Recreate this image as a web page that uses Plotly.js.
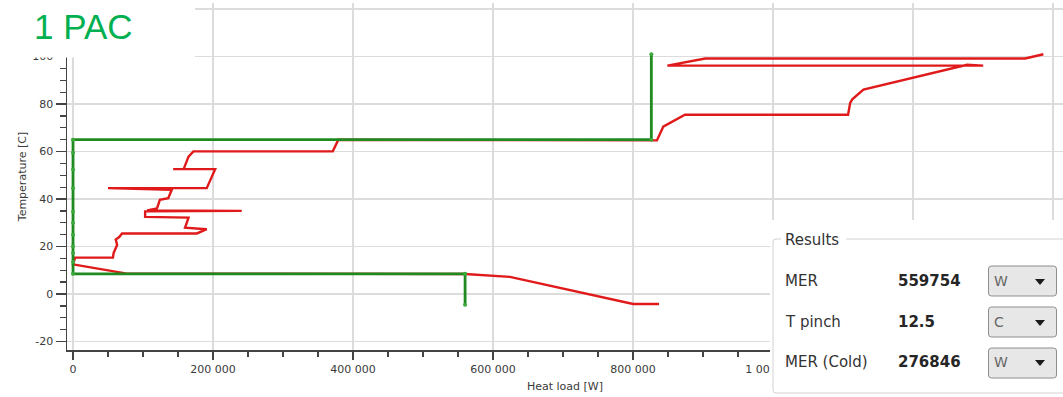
<!DOCTYPE html>
<html>
<head>
<meta charset="utf-8">
<script src="https://cdn.plot.ly/plotly-3.0.1.min.js"></script>
<style>html,body{margin:0;padding:0;background:#fff;}#chart{width:1063px;height:397px;}</style>
</head>
<body>
<div id="chart"></div>
<script>
// ---- data ----
var redHeat = [837000, 800000, 624000, 560000, 75000, 0, 3000, 57000, 58000, 63000, 61000, 66000, 70000,
  177000, 191000, 160000, 165000, 103000, 103000, 241000, 106000, 120000, 124000, 136000, 141000,
  50000, 191000, 203000, 143000, 158000, 165000, 170000, 172000, 371000, 379000, 834000, 843000,
  874000, 1107000, 1110000, 1113000, 1129000, 1277000, 1300000, 849000, 903000, 1360000, 1386000];
var redTemp = [-4.2, -4.2, 7.2, 8.4, 8.7, 12.5, 15.3, 15.3, 17.3, 20.7, 23.0, 24.0, 25.5,
  25.5, 27.3, 27.9, 32.2, 32.5, 34.8, 35.0, 35.2, 36.1, 39.7, 40.4, 43.9,
  44.6, 44.6, 52.6, 52.6, 52.6, 57.9, 59.4, 60.1, 60.1, 65.0, 64.7, 70.5,
  75.5, 75.5, 80.5, 82.0, 86.1, 96.6, 96.2, 96.2, 99.2, 99.2, 101.0];
var greenHeat = [560000, 560000, 0, 0, 0, 0, 0, 0, 0, 0, 0, 0, 0, 826000, 826000];
var greenTemp = [-4.5, 8.5, 8.5, 13.5, 17.3, 20.0, 25.0, 30.0, 34.7, 44.6, 52.5, 59.5, 65.0, 65.0, 101.0];

var xTickVals = [0, 200000, 400000, 600000, 800000, 1000000, 1200000, 1400000];
var xTickText = ["0", "200 000", "400 000", "600 000", "800 000", "1 000 000", "", ""];
var yTickVals = [-20, 0, 20, 40, 60, 80, 100, 120];
var yTickText = ["-20", "0", "20", "40", "60", "80", "100", ""];

var titleText = "1 PAC";
var xTitle = "Heat load [W]";
var yTitle = "Temperature [C]";
var panelTitle = "Results";
var resultLabels = ["MER", "T pinch", "MER (Cold)"];
var resultValues = ["559754", "12.5", "276846"];
var resultUnits = ["W", "C", "W"];

// ---- geometry helpers (pixel -> paper) ----
var L = 67, R = 1063, T = 3, B = 350;
function px(x){ return (x - L) / (R - L); }
function py(y){ return (B - y) / (B - T); }

var font = "DejaVu Sans";
var shapes = [];
var ann = [];

// white box behind title
shapes.push({type:'rect', xref:'paper', yref:'paper', layer:'above',
  x0:px(0), x1:px(195), y0:py(57.5), y1:py(-5), fillcolor:'#ffffff', line:{width:0}});
// results panel background
shapes.push({type:'rect', xref:'paper', yref:'paper', layer:'above',
  x0:px(770), x1:px(1070), y0:py(400), y1:py(220), fillcolor:'#ffffff', line:{width:0}});
// group box border
shapes.push({type:'path', xref:'paper', yref:'paper', layer:'above',
  path:'M '+px(781)+' '+py(239)+' L '+px(776)+' '+py(239)+' Q '+px(773)+' '+py(239)+' '+px(773)+' '+py(242)+
       ' L '+px(773)+' '+py(390)+' Q '+px(773)+' '+py(393)+' '+px(776)+' '+py(393)+' L '+px(1070)+' '+py(393),
  line:{color:'#d2d2d2', width:1}});
shapes.push({type:'line', xref:'paper', yref:'paper', layer:'above',
  x0:px(846), x1:px(1070), y0:py(239), y1:py(239), line:{color:'#d2d2d2', width:1}});

var rowY = [281, 322, 362];
var boxTop = [266, 307, 348];
for (var i = 0; i < 3; i++) {
  var x0 = px(988.5), x1 = px(1056.5), yt = py(boxTop[i]), yb = py(boxTop[i] + 30);
  var rx = 3 / (R - L), ry = 3 / (B - T);
  shapes.push({type:'path', xref:'paper', yref:'paper', layer:'above',
    path:'M '+(x0+rx)+' '+yt+' L '+(x1-rx)+' '+yt+' Q '+x1+' '+yt+' '+x1+' '+(yt-ry)+
         ' L '+x1+' '+(yb+ry)+' Q '+x1+' '+yb+' '+(x1-rx)+' '+yb+' L '+(x0+rx)+' '+yb+
         ' Q '+x0+' '+yb+' '+x0+' '+(yb+ry)+' L '+x0+' '+(yt-ry)+' Q '+x0+' '+yt+' '+(x0+rx)+' '+yt+' Z',
    fillcolor:'#e7e7e7', line:{color:'#8e8e8e', width:1}});
  shapes.push({type:'path', xref:'paper', yref:'paper', layer:'above',
    path:'M '+px(1035)+' '+py(rowY[i]-2)+' L '+px(1045)+' '+py(rowY[i]-2)+' L '+px(1040)+' '+py(rowY[i]+4)+' Z',
    fillcolor:'#1a1a1a', line:{width:0}});
  ann.push({xref:'paper', yref:'paper', x:px(783), y:py(rowY[i]), xanchor:'left', yanchor:'middle',
    text:resultLabels[i], showarrow:false, font:{family:font, size:15, color:'#333333'}});
  ann.push({xref:'paper', yref:'paper', x:px(896), y:py(rowY[i]), xanchor:'left', yanchor:'middle',
    text:'<b>'+resultValues[i]+'</b>', showarrow:false, font:{family:font, size:15, color:'#262626'}});
  ann.push({xref:'paper', yref:'paper', x:px(992), y:py(rowY[i]), xanchor:'left', yanchor:'middle',
    text:resultUnits[i], showarrow:false, font:{family:font, size:14, color:'#666666'}});
}
ann.push({xref:'paper', yref:'paper', x:px(783), y:py(240), xanchor:'left', yanchor:'middle',
  text:panelTitle, showarrow:false, font:{family:font, size:15, color:'#333333'}});
ann.push({xref:'paper', yref:'paper', x:px(32), y:py(26), xanchor:'left', yanchor:'middle',
  text:titleText, showarrow:false, font:{family:'Liberation Sans', size:35, color:'#00b050'}});

var traces = [
  {x:redHeat, y:redTemp, type:'scatter', mode:'lines', line:{color:'#e01a1a', width:2.4}, hoverinfo:'skip'},
  {x:greenHeat, y:greenTemp, type:'scatter', mode:'lines+markers', line:{color:'#1f8a1f', width:2.8},
   marker:{size:4, color:'#3aa83a'}, hoverinfo:'skip'}
];

var axFont = {family:font, size:11, color:'#3a3a3a'};
var layout = {
  width:1063, height:397,
  margin:{l:L, r:0, t:T, b:397-B, pad:0},
  paper_bgcolor:'#ffffff', plot_bgcolor:'#ffffff',
  showlegend:false,
  separators:'. ',
  xaxis:{range:[-8600, 1414000], tickmode:'array', tickvals:xTickVals, ticktext:xTickText,
    showgrid:true, gridcolor:'#dcdcdc', gridwidth:1.5, zeroline:false,
    showline:true, linecolor:'#444', linewidth:1.5,
    ticks:'outside', ticklen:8, tickwidth:1.3, tickcolor:'#444', tickfont:axFont,
    minor:{dtick:50000, tick0:0, ticks:'outside', ticklen:5, tickwidth:1.3, tickcolor:'#444', showgrid:false},
    title:{text:xTitle, font:axFont, standoff:7}, automargin:false, fixedrange:true},
  yaxis:{range:[-23.6, 122.6], tickmode:'array', tickvals:yTickVals, ticktext:yTickText,
    showgrid:true, gridcolor:'#dcdcdc', gridwidth:1.5, zeroline:false,
    showline:true, linecolor:'#444', linewidth:1.5,
    ticks:'outside', ticklen:10, tickwidth:1.3, tickcolor:'#444', tickfont:axFont,
    minor:{dtick:5, tick0:0, ticks:'outside', ticklen:6, tickwidth:1.3, tickcolor:'#444', showgrid:false},
    title:{text:yTitle, font:axFont, standoff:3}, automargin:false, fixedrange:true},
  shapes:shapes,
  annotations:ann
};

Plotly.newPlot('chart', traces, layout, {displayModeBar:false, staticPlot:true});
</script>
</body>
</html>
